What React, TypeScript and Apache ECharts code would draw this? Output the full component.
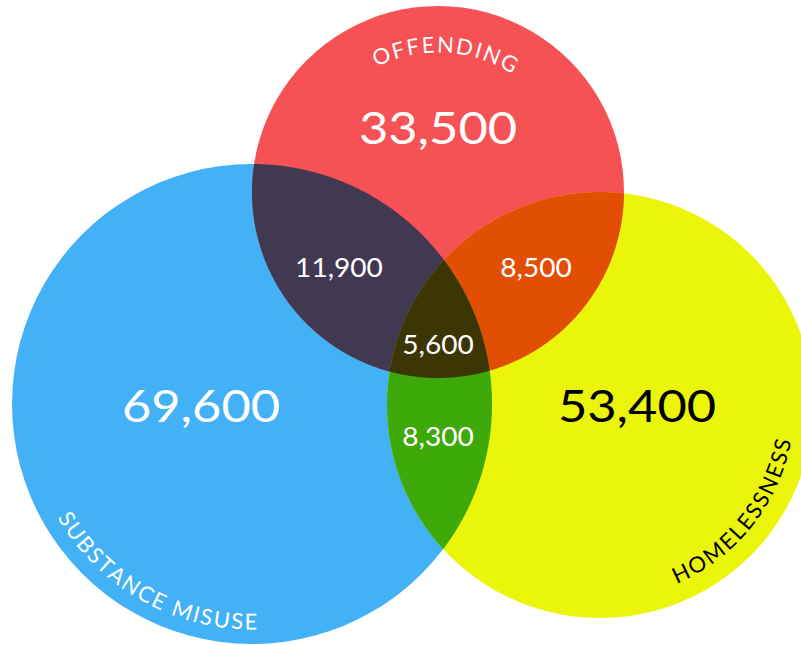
import React, { useEffect, useRef } from "react";
import * as echarts from "echarts";

// ---- data ----
const SET_LABELS = ["SUBSTANCE MISUSE", "OFFENDING", "HOMELESSNESS"];
const SET_COLORS = ["#43B1F5", "#F65155", "#EAF50A"];
// regions: which sets each region belongs to
const REGION_SETS: number[][] = [[0], [1], [2], [0, 1], [1, 2], [0, 2], [0, 1, 2]];
const REGION_VALUES = [69600, 33500, 53400, 11900, 8500, 8300, 5600];

// ---- layout (pixels) ----
const CIRCLES = [
  { cx: 252, cy: 404, r: 240 },
  { cx: 438, cy: 192, r: 186 },
  { cx: 600, cy: 405, r: 213 },
];
const REGION_LABEL_POS = [
  [201, 405],
  [438, 127],
  [637, 405],
  [339, 267],
  [536, 267],
  [438, 436],
  [438, 344],
];
const REGION_LABEL_SIZE = [44, 44, 44, 26, 26, 26, 26];
const REGION_LABEL_SCALE = [1.15, 1.15, 1.15, 1.08, 1.08, 1.08, 1.08];
const REGION_LABEL_COLOR = ["#ffffff", "#ffffff", "#000000", "#ffffff", "#ffffff", "#ffffff", "#ffffff"];
// set label arcs: radius of text mid-line, centre angle (deg, screen), inward = tops toward centre
const SET_LABEL_ARC = [
  { r: 217, deg: 119.2, inward: true, size: 22, spacing: 1.35, color: "#ffffff" },
  { r: 148, deg: -87, inward: false, size: 22, spacing: 2.8, color: "#ffffff" },
  { r: 186, deg: 38.7, inward: true, size: 22, spacing: 1.3, color: "#000000" },
];
const FONT = "Lato, 'DejaVu Sans', sans-serif";

function hexToRgb(h: string) {
  const n = parseInt(h.slice(1), 16);
  return [(n >> 16) & 255, (n >> 8) & 255, n & 255];
}
function multiply(cols: string[]) {
  let acc = [255, 255, 255];
  cols.forEach((c) => {
    const v = hexToRgb(c);
    acc = acc.map((a, i) => (a * v[i]) / 255);
  });
  return "rgb(" + acc.map((a) => Math.round(a)).join(",") + ")";
}

type C = { cx: number; cy: number; r: number };
function inside(p: number[], c: C) {
  return (p[0] - c.cx) ** 2 + (p[1] - c.cy) ** 2 <= c.r * c.r + 0.01;
}
function circleIntersections(a: C, b: C) {
  const dx = b.cx - a.cx, dy = b.cy - a.cy;
  const d = Math.hypot(dx, dy);
  if (d > a.r + b.r || d < Math.abs(a.r - b.r)) return [];
  const l = (a.r * a.r - b.r * b.r + d * d) / (2 * d);
  const h = Math.sqrt(Math.max(0, a.r * a.r - l * l));
  const px = a.cx + (l * dx) / d, py = a.cy + (l * dy) / d;
  return [
    [px - (h * dy) / d, py + (h * dx) / d],
    [px + (h * dy) / d, py - (h * dx) / d],
  ];
}
function intersectionPolygon(sets: number[]) {
  const cs = sets.map((s) => CIRCLES[s]);
  const pts: number[][] = [];
  const N = 1440;
  cs.forEach((c, k) => {
    for (let j = 0; j < N; j++) {
      const a = (j / N) * Math.PI * 2;
      const p = [c.cx + c.r * Math.cos(a), c.cy + c.r * Math.sin(a)];
      if (cs.every((o, m) => m === k || inside(p, o))) pts.push(p);
    }
  });
  for (let i = 0; i < cs.length; i++)
    for (let j = i + 1; j < cs.length; j++)
      circleIntersections(cs[i], cs[j]).forEach((p) => {
        if (cs.every((o) => (p[0] - o.cx) ** 2 + (p[1] - o.cy) ** 2 <= o.r * o.r + 1)) pts.push(p);
      });
  const mx = pts.reduce((s, p) => s + p[0], 0) / pts.length;
  const my = pts.reduce((s, p) => s + p[1], 0) / pts.length;
  pts.sort((p, q) => Math.atan2(p[1] - my, p[0] - mx) - Math.atan2(q[1] - my, q[0] - mx));
  return pts;
}

function arcTextElements() {
  const canvas = document.createElement("canvas");
  const ctx = canvas.getContext("2d")!;
  const els: any[] = [];
  SET_LABELS.forEach((text, si) => {
    const c = CIRCLES[si];
    const cfg = SET_LABEL_ARC[si];
    ctx.font = `${cfg.size}px ${FONT}`;
    const chars = Array.from(text);
    const widths = chars.map((ch) => ctx.measureText(ch).width);
    const total = widths.reduce((a, b) => a + b, 0) + cfg.spacing * (chars.length - 1);
    const dir = cfg.inward ? -1 : 1;
    const tc = (cfg.deg * Math.PI) / 180;
    let s = -total / 2;
    chars.forEach((ch, i) => {
      const mid = s + widths[i] / 2;
      const th = tc + (dir * mid) / cfg.r;
      const x = c.cx + cfg.r * Math.cos(th);
      const y = c.cy + cfg.r * Math.sin(th);
      const rot = dir === 1 ? -(th + Math.PI / 2) : -(th - Math.PI / 2);
      s += widths[i] + cfg.spacing;
      if (ch === " ") return;
      els.push({
        type: "text",
        x,
        y,
        rotation: rot,
        z: 100,
        silent: true,
        style: {
          text: ch,
          fill: cfg.color,
          font: `${cfg.size}px ${FONT}`,
          align: "center",
          verticalAlign: "middle",
        },
      });
    });
  });
  return els;
}

export default function App() {
  const ref = useRef<HTMLDivElement>(null);
  useEffect(() => {
    if (!ref.current) return;
    const chart = echarts.init(ref.current, null, { renderer: "svg" });
    const option: any = {
      animation: false,
      backgroundColor: "#ffffff",
      series: [
        {
          type: "custom",
          coordinateSystem: "none",
          silent: true,
          data: REGION_VALUES.map((v, i) => [i, v]),
          renderItem: (params: any, api: any) => {
            const i = params.dataIndex;
            const sets = REGION_SETS[i];
            const fill = multiply(sets.map((s) => SET_COLORS[s]));
            const shapeEl =
              sets.length === 1
                ? {
                    type: "circle",
                    shape: { cx: CIRCLES[sets[0]].cx, cy: CIRCLES[sets[0]].cy, r: CIRCLES[sets[0]].r },
                    style: { fill },
                    z2: i,
                  }
                : {
                    type: "polygon",
                    shape: { points: intersectionPolygon(sets) },
                    style: { fill },
                    z2: 10 + i,
                  };
            const [lx, ly] = REGION_LABEL_POS[i];
            return {
              type: "group",
              children: [
                shapeEl,
                {
                  type: "text",
                  x: lx,
                  y: ly,
                  scaleX: REGION_LABEL_SCALE[i],
                  z2: 100,
                  style: {
                    text: Number(api.value(1)).toLocaleString("en-US"),
                    fill: REGION_LABEL_COLOR[i],
                    font: `${REGION_LABEL_SIZE[i]}px ${FONT}`,
                    align: "center",
                    verticalAlign: "middle",
                  },
                },
              ],
            };
          },
        },
      ],
      graphic: { elements: arcTextElements() },
    };
    chart.setOption(option);
    return () => chart.dispose();
  }, []);
  return (
    <div
      ref={ref}
      style={{ position: "absolute", left: 0, top: 0, width: 801, height: 645 }}
    />
  );
}
